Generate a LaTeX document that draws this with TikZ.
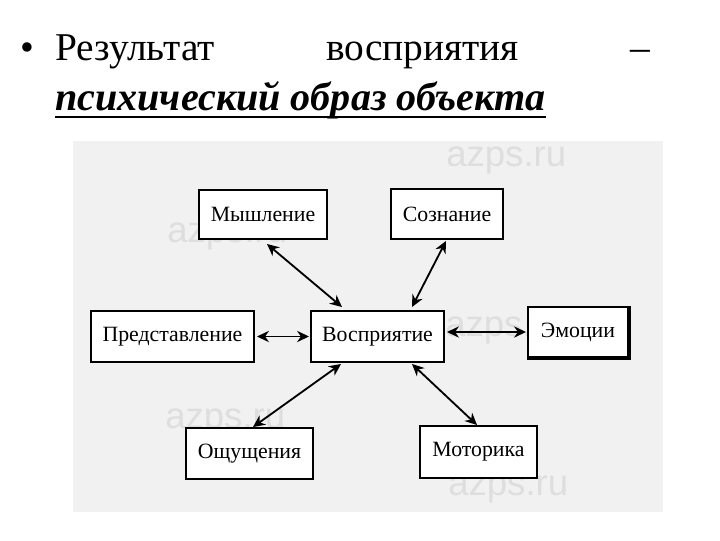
\documentclass[tikz,border=0pt]{standalone}
\usepackage{fontspec}
\setmainfont{Liberation Serif}
\newfontfamily\marcafont{Liberation Sans}
\usepackage{xcolor}
\usetikzlibrary{arrows.meta, positioning, calc}
\definecolor{corFundo}{RGB}{241,241,241}
\definecolor{corMarca}{RGB}{222,222,222}

\begin{document}
\begin{tikzpicture}[x=0.025cm, y=-0.025cm, every node/.style={font=\fontsize{15.5}{18}\selectfont}]
    \tikzstyle{bloco}=[rectangle, draw=black, line width=1.4pt, fill=white,
      inner sep=0pt, align=center]
    \tikzstyle{seta}=[{Stealth[length=8.5pt,width=8pt]}-{Stealth[length=8.5pt,width=8pt]}, line width=1.3pt]
    \tikzstyle{marca}=[text=corMarca, font=\marcafont\fontsize{26}{28}\selectfont, inner sep=0pt]
    \useasboundingbox (0,0) rectangle (720,540);
    % titulo
    \node[anchor=base west, inner sep=0pt, font=\fontsize{28}{32}\selectfont] (bul) at (20,60) {\textbullet};
    \node[anchor=base west, inner sep=0pt, font=\fontsize{28}{32}\selectfont] (tit) at (55,60)
      {\makebox[14.875cm]{Результат\hfill восприятия\hfill –}};
    \node[anchor=base west, inner sep=0pt, font=\fontsize{28.5}{32}\selectfont\bfseries\itshape] (sub) at (55,110)
      {психический образ объекта};
    \draw[line width=1.5pt] ($(sub.base west)+(0,7)$) -- ($(sub.base east)+(0,7)$);
    % fundo
    \fill[corFundo] (73,141) rectangle (663,512);
    \node[marca, anchor=west] (m1) at (446,160) {azps.ru};
    \node[marca, anchor=west] (m2) at (167,236) {azps.ru};
    \node[marca, anchor=west] (m3) at (445,330) {azps.ru};
    \node[marca, anchor=west] (m4) at (165,422) {azps.ru};
    \node[marca, anchor=west] (m5) at (448,489) {azps.ru};
    % blocos
    \node[bloco, minimum width=128*0.025cm, minimum height=49*0.025cm] (mysh) at (263,214.5) {Мышление};
    \node[bloco, minimum width=112*0.025cm, minimum height=50*0.025cm] (soz) at (447,214) {Сознание};
    \node[bloco, minimum width=163*0.025cm, minimum height=51*0.025cm] (pred) at (172.5,336.5) {Представление};
    \node[bloco, minimum width=133*0.025cm, minimum height=51*0.025cm] (vosp) at (377.5,336.5) {Восприятие};
    \node[bloco, minimum width=100*0.025cm, minimum height=50*0.025cm] (emo) at (578,332) {Эмоции};
    \node[bloco, minimum width=127*0.025cm, minimum height=51*0.025cm] (oshch) at (249.5,453.5) {Ощущения};
    \node[bloco, minimum width=117*0.025cm, minimum height=52*0.025cm] (mot) at (478.5,452) {Моторика};
    \draw[line width=2.2pt] (emo.north east) -- (emo.south east) -- (emo.south west);
    % setas
    \draw[seta] ($(mysh.south)+(4,4)$) -- ($(vosp.north)+(-35.5,-3)$);
    \draw[seta] ($(soz.south)+(-1,1)$) -- ($(vosp.north)+(34.5,-3)$);
    \draw[seta] ($(pred.east)+(2,0)$) -- ($(vosp.west)+(-1,0)$);
    \draw[seta] ($(vosp.east)+(2,-4.5)$) -- ($(emo.west)+(-1,0)$);
    \draw[seta] ($(vosp.south)+(-36.5,1)$) -- ($(oshch.north)+(3.5,0)$);
    \draw[seta] ($(vosp.south)+(34.5,1)$) -- ($(mot.north)+(-1.5,0)$);
  \end{tikzpicture}
\end{document}
